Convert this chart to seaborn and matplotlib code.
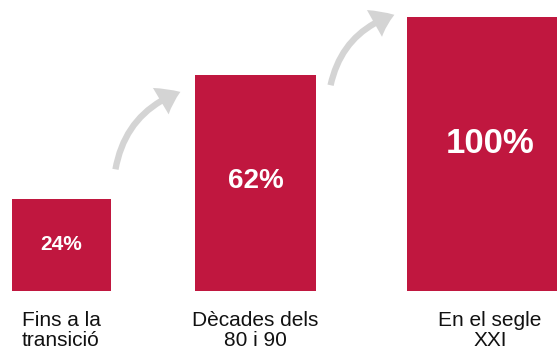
import matplotlib
matplotlib.use("Agg")
import matplotlib.pyplot as plt
from matplotlib.patches import FancyArrowPatch
import seaborn as sns
import pandas as pd

# --- data ---
categories = ["Fins a la\ntransició", "Dècades dels\n80 i 90", "En el segle\nXXI"]
shares = [24, 62, 100]
# drawn bar heights (tallest bar = 100)
bar_heights = [33.6, 78.8, 100]

# --- layout (canvas is 557 x 351 px, x axis in px) ---
centers = [61, 255.5, 490]
widths = [99, 121, 166]
label_frac = [0.5, 0.51, 0.54]
label_size = [15, 20, 25]
RED = "#C0173F"
GREY = "#D4D4D4"

df = pd.DataFrame({"categoria": categories, "share": shares,
                   "height": bar_heights, "x": centers})

sns.set_theme(style="white")
plt.rcParams["font.family"] = ["Liberation Sans", "DejaVu Sans"]

fig = plt.figure(figsize=(5.57, 3.51), dpi=100)
ax = fig.add_axes([0, 0, 1, 1])

sns.barplot(data=df, x="x", y="height", native_scale=True, color=RED,
            saturation=1, errorbar=None, linewidth=0, ax=ax)
for patch, c, w in zip(ax.patches, centers, widths):
    patch.set_x(c - w / 2)
    patch.set_width(w)

# value labels inside bars
for c, h, s, f, fs in zip(centers, bar_heights, shares, label_frac, label_size):
    ax.text(c, h * f, f"{s}%", ha="center", va="center", color="white",
            fontsize=fs, fontweight="bold")

# category labels under bars (kept just inside the bottom edge)
for c, lab in zip(centers, categories):
    ax.text(c, -7.4, lab, ha="center", va="top", color="#111111",
            fontsize=15, linespacing=1.02)

# curved grey arrows between bars
arrows = [((115, 43.4), (183, 73.0)), ((330, 74.1), (397, 101.1))]
for a, b in arrows:
    ax.add_patch(FancyArrowPatch(
        a, b, connectionstyle="arc3,rad=-0.3",
        arrowstyle="simple,head_length=1.2,head_width=1.7,tail_width=0.35",
        mutation_scale=13, color=GREY, lw=0))

ax.set_xlim(0, 557)
ax.set_ylim(-21.9, 106.2)
ax.axis("off")

fig.savefig("out.png", dpi=100)
